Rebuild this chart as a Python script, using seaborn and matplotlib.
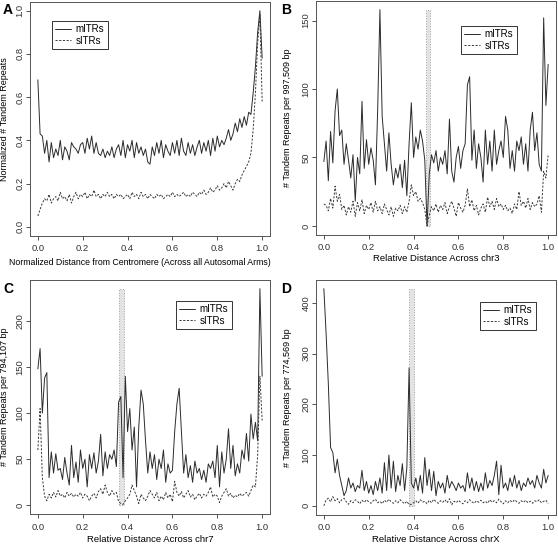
import numpy as np
import pandas as pd
import seaborn as sns
import matplotlib.pyplot as plt
from matplotlib.patches import Rectangle

# valores (paso 0.01 en x)
a_mitr = [0.68, 0.43, 0.42, 0.34, 0.40, 0.30, 0.39, 0.32, 0.36, 0.33,
          0.40, 0.31, 0.37, 0.35, 0.31, 0.39, 0.37, 0.36, 0.34, 0.38,
          0.39, 0.34, 0.41, 0.36, 0.42, 0.34, 0.39, 0.34, 0.33, 0.36,
          0.32, 0.35, 0.33, 0.37, 0.32, 0.36, 0.38, 0.33, 0.40, 0.32,
          0.38, 0.35, 0.40, 0.32, 0.39, 0.34, 0.37, 0.33, 0.36, 0.30,
          0.29, 0.37, 0.33, 0.39, 0.34, 0.40, 0.32, 0.38, 0.35, 0.33,
          0.39, 0.34, 0.40, 0.33, 0.41, 0.35, 0.33, 0.39, 0.34, 0.38,
          0.33, 0.37, 0.40, 0.34, 0.39, 0.35, 0.40, 0.33, 0.41, 0.35,
          0.42, 0.37, 0.40, 0.38, 0.41, 0.45, 0.40, 0.43, 0.48, 0.44,
          0.50, 0.46, 0.51, 0.47, 0.53, 0.52, 0.62, 0.74, 0.90, 1.00,
          0.78]
a_sitr = [0.05, 0.08, 0.11, 0.13, 0.12, 0.15, 0.11, 0.13, 0.14, 0.12,
          0.16, 0.13, 0.14, 0.12, 0.15, 0.11, 0.14, 0.16, 0.13, 0.15,
          0.14, 0.16, 0.13, 0.15, 0.14, 0.17, 0.14, 0.15, 0.13, 0.15,
          0.14, 0.16, 0.14, 0.15, 0.13, 0.15, 0.14, 0.15, 0.13, 0.14,
          0.15, 0.13, 0.16, 0.14, 0.15, 0.13, 0.16, 0.14, 0.15, 0.13,
          0.15, 0.14, 0.13, 0.15, 0.14, 0.15, 0.13, 0.14, 0.15, 0.14,
          0.16, 0.14, 0.15, 0.14, 0.15, 0.16, 0.14, 0.15, 0.14, 0.16,
          0.15, 0.14, 0.16, 0.15, 0.17, 0.15, 0.16, 0.18, 0.16, 0.17,
          0.19, 0.17, 0.18, 0.20, 0.18, 0.21, 0.19, 0.17, 0.20, 0.22,
          0.21, 0.24, 0.26, 0.28, 0.30, 0.34, 0.45, 0.62, 0.85, 0.98,
          0.58]

b_mitr = [47, 62, 33, 69, 46, 84, 100, 66, 70, 45,
          60, 48, 35, 52, 18, 50, 38, 91, 42, 63,
          45, 57, 48, 30, 85, 158, 80, 60, 40, 68,
          45, 30, 42, 35, 45, 28, 48, 22, 60, 90,
          50, 65, 56, 70, 62, 48, 0, 38, 52, 46,
          55, 40, 50, 45, 55, 38, 78, 40, 32, 50,
          58, 42, 55, 60, 103, 109, 48, 70, 42, 60,
          50, 32, 70, 45, 62, 40, 70, 45, 55, 62,
          50, 80, 70, 42, 55, 40, 62, 55, 65, 45,
          60, 40, 70, 83, 55, 68, 45, 40, 152, 88,
          118]
b_sitr = [16, 15, 11, 20, 13, 29, 18, 23, 12, 15,
          8, 14, 10, 18, 7, 17, 11, 19, 9, 15,
          12, 17, 10, 18, 11, 14, 9, 16, 12, 8,
          14, 7, 13, 11, 15, 9, 14, 10, 18, 30,
          22, 25, 18, 20, 17, 12, 0, 8, 14, 11,
          16, 10, 15, 12, 17, 9, 14, 18, 13, 7,
          17, 13, 10, 15, 27, 14, 19, 11, 15, 8,
          13, 16, 10, 21, 14, 18, 12, 20, 14, 16,
          12, 15, 11, 13, 9, 16, 12, 25, 15, 18,
          13, 20, 12, 17, 14, 16, 22, 10, 40, 35,
          52]

c_mitr = [148, 170, 100, 138, 144, 30, 58, 35, 56, 38,
          40, 28, 52, 35, 22, 65, 30, 47, 25, 60,
          40, 50, 20, 55, 40, 57, 35, 48, 77, 32,
          58, 40, 55, 50, 60, 42, 112, 118, 30, 140,
          80, 105, 60, 85, 20, 85, 125, 110, 70, 35,
          58, 40, 55, 28, 50, 40, 60, 25, 45, 35,
          38, 80, 110, 127, 80, 35, 55, 30, 43, 25,
          48, 35, 40, 28, 38, 25, 45, 40, 48, 30,
          65, 20, 58, 35, 50, 83, 40, 65, 32, 45,
          35, 60, 50, 78, 48, 99, 72, 90, 70, 235,
          140]
c_sitr = [60, 105, 30, 10, 5, 12, 8, 14, 9, 16,
          10, 12, 8, 14, 10, 13, 9, 12, 10, 14,
          8, 12, 10, 5, 10, 13, 8, 15, 18, 12,
          22, 14, 10, 16, 12, 14, 4, 2, 1, 5,
          8, 12, 22, 16, 10, 2, 12, 8, 5, 10,
          16, 12, 8, 14, 5, 10, 6, 14, 8, 12,
          4, 26, 14, 10, 15, 8, 12, 16, 9, 12,
          6, 10, 13, 8, 12, 10, 14, 20, 9, 12,
          10, 3, 10, 14, 18, 10, 13, 8, 11, 9,
          13, 10, 12, 14, 10, 16, 22, 20, 55, 140,
          92]

d_mitr = [428, 340, 240, 115, 105, 65, 92, 60, 40, 20,
          30, 55, 35, 45, 28, 40, 35, 70, 30, 48,
          25, 40, 22, 48, 30, 55, 25, 85, 30, 100,
          35, 88, 28, 60, 40, 83, 30, 75, 272, 45,
          35, 55, 30, 60, 25, 95, 40, 72, 30, 68,
          20, 48, 35, 45, 25, 60, 35, 48, 40, 30,
          45, 35, 40, 28, 65, 35, 55, 30, 48, 28,
          45, 30, 65, 35, 50, 40, 60, 88, 22, 80,
          35, 45, 30, 55, 38, 60, 35, 50, 30, 45,
          38, 55, 42, 50, 35, 60, 45, 35, 72, 45,
          60]
d_sitr = [0, 12, 15, 8, 18, 10, 14, 6, 12, 15,
          8, 3, 10, 6, 12, 9, 4, 11, 7, 12,
          8, 5, 10, 13, 6, 9, 4, 11, 7, 13,
          8, 5, 10, 6, 12, 8, 4, 9, 2, 3,
          6, 10, 5, 12, 7, 9, 4, 11, 6, 13,
          8, 5, 10, 7, 12, 6, 14, 2, 9, 6,
          11, 7, 4, 10, 6, 12, 8, 5, 10, 7,
          11, 6, 9, 5, 12, 7, 10, 6, 13, 8,
          4, 10, 6, 11, 7, 12, 8, 5, 10, 7,
          11, 6, 9, 5, 10, 8, 12, 6, 9, 11,
          4]

# centromeros (inicio, fin)
b_centro = [0.455, 0.474]
c_centro = [0.360, 0.385]
d_centro = [0.381, 0.402]

letras = ['A', 'B', 'C', 'D']
x_labels = ['Normalized Distance from Centromere (Across all Autosomal Arms)',
            'Relative Distance Across chr3',
            'Relative Distance Across chr7',
            'Relative Distance Across chrX']
y_labels = ['Normalized # Tandem Repeats',
            '# Tandem Repeats per 997,509 bp',
            '# Tandem Repeats per 794,107 bp',
            '# Tandem Repeats per 774,569 bp']
x_ticks = [0.0, 0.2, 0.4, 0.6, 0.8, 1.0]
y_ticks = [[0.0, 0.2, 0.4, 0.6, 0.8, 1.0],
           [0, 50, 100, 150],
           [0, 50, 100, 150, 200],
           [0, 100, 200, 300, 400]]

sns.set_style('ticks')
plt.rcParams['font.family'] = ['Liberation Sans', 'DejaVu Sans']
plt.rcParams['text.color'] = 'black'
plt.rcParams['axes.labelcolor'] = 'black'
plt.rcParams['xtick.color'] = '#333333'
plt.rcParams['ytick.color'] = '#333333'

W, H = 558, 545
fig = plt.figure(figsize=(W / 100, H / 100), dpi=100)


def caja(l, t, r, b):
    return [l / W, 1 - b / H, (r - l) / W, (b - t) / H]


# posiciones en pixeles: ejes, leyenda, letra
cajas = [caja(30, 2, 270, 235.5), caja(316, 1, 556, 234.5),
         caja(30, 280, 270, 514), caja(316, 280, 556, 514.5)]
leyendas = [(52, 21), (461, 26), (176, 301), (480, 302)]
pos_letras = [(3, 3), (281, 3), (3, 282), (281, 282)]
ylims = [(-0.04, 1.04), (-6.3, 164.3), (-9.4, 244.4), (-17.1, 445.1)]
ylab_x = [-0.088, -0.098, -0.088, -0.098]
xlab_x = [0.458, 0.5, 0.5, 0.5]
xlab_y = [-0.096, -0.082, -0.088, -0.088]
xlab_size = [6.3, 6.8, 6.8, 6.8]

datos = [(a_mitr, a_sitr, None), (b_mitr, b_sitr, b_centro),
         (c_mitr, c_sitr, c_centro), (d_mitr, d_sitr, d_centro)]

for i, (mitr, sitr, centro) in enumerate(datos):
    ax = fig.add_axes(cajas[i])
    x = np.linspace(0, 1, len(mitr))
    df = pd.DataFrame({'x': x, 'mITRs': mitr, 'sITRs': sitr})

    if centro is not None:
        tope = max(max(mitr), max(sitr))
        ax.add_patch(Rectangle((centro[0], 0), centro[1] - centro[0], tope,
                               facecolor='#e3e3e3', edgecolor='#a0a0a0',
                               linestyle=':', linewidth=0.7, zorder=1))

    sns.lineplot(data=df, x='x', y='mITRs', ax=ax, color='#2b2b2b',
                 linewidth=0.7, label='mITRs', estimator=None, zorder=3)
    sns.lineplot(data=df, x='x', y='sITRs', ax=ax, color='#3a3a3a',
                 linewidth=0.7, linestyle=(0, (2.2, 1.6)), label='sITRs',
                 estimator=None, zorder=3)

    ax.set_xlim(-0.035, 1.035)
    ax.set_ylim(*ylims[i])
    ax.set_xticks(x_ticks)
    ax.set_xticklabels([f'{t:.1f}' for t in x_ticks])
    ax.set_yticks(y_ticks[i])
    if i == 0:
        ax.set_yticklabels([f'{t:.1f}' for t in y_ticks[i]])
    else:
        ax.set_yticklabels([str(t) for t in y_ticks[i]])

    ax.tick_params(direction='out', length=3.2, width=0.6, labelsize=6.8)
    ax.tick_params(axis='x', pad=3.2)
    ax.tick_params(axis='y', pad=0.8)
    for lab in ax.get_yticklabels():
        lab.set_rotation(90)
        lab.set_va('center')
    for s in ax.spines.values():
        s.set_visible(True)
        s.set_linewidth(0.7)
        s.set_color('#555555')

    ax.set_xlabel(x_labels[i], fontsize=xlab_size[i])
    ax.set_ylabel(y_labels[i], fontsize=6.5)
    ax.xaxis.set_label_coords(xlab_x[i], xlab_y[i])
    ax.yaxis.set_label_coords(ylab_x[i], 0.5)

    lx, ly = leyendas[i]
    leg = ax.legend(loc='upper left', bbox_to_anchor=(lx / W, 1 - ly / H),
                    bbox_transform=fig.transFigure, frameon=True,
                    fancybox=False, edgecolor='#333333', framealpha=1,
                    fontsize=7, handlelength=1.6, borderpad=0.35,
                    labelspacing=0.15, handletextpad=0.5, borderaxespad=0)
    leg.get_frame().set_linewidth(0.7)

    px, py = pos_letras[i]
    fig.text(px / W, 1 - py / H, letras[i], fontsize=10, fontweight='bold',
             ha='left', va='top')

fig.savefig('out.png', dpi=100)
